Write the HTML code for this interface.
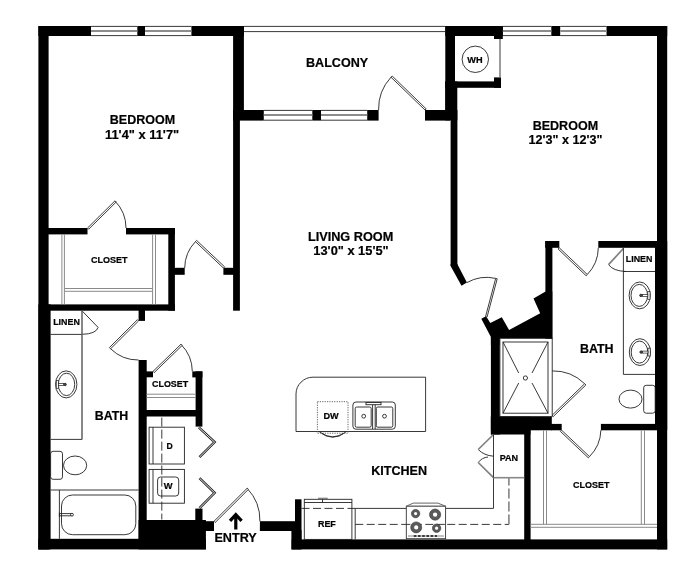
<!DOCTYPE html>
<html><head><meta charset="utf-8">
<style>
html,body{margin:0;padding:0;background:#fff;}
body{width:698px;height:573px;overflow:hidden;}
svg{display:block;filter:grayscale(1);}
text{font-family:"Liberation Sans",sans-serif;font-weight:bold;fill:#000;stroke:#000;stroke-width:0.2;text-anchor:middle;}
.w{fill:#000;}
.t{fill:none;stroke:#222;stroke-width:0.9;}
.g{fill:none;stroke:#8a8a8a;stroke-width:1;}
.d{fill:#fff;stroke:#1a1a1a;stroke-width:0.85;}
</style></head><body>
<svg width="698" height="573" viewBox="0 0 698 573">
<rect width="698" height="573" fill="#fff"/>

<!-- ===== OUTER WALLS ===== -->
<g class="w">
<!-- left wall -->
<rect x="38.4" y="26" width="10.2" height="523.4"/>
<rect x="38.4" y="304.4" width="12.2" height="245"/>
<!-- top-left segments -->
<rect x="38.4" y="26" width="52.6" height="10"/>
<rect x="137.3" y="26" width="7.7" height="10"/>
<rect x="191.4" y="26" width="52.5" height="10"/>
<!-- wall between bedroom1 and balcony/living -->
<rect x="233.1" y="26" width="10.8" height="90"/>
<rect x="233.1" y="110" width="6.8" height="200.7"/>
<rect x="233.1" y="110" width="30.7" height="10.6"/>
<rect x="312.3" y="110" width="8.7" height="10.6"/>
<rect x="367.2" y="110" width="11.4" height="10.6"/>
<rect x="425" y="110" width="25" height="10.6"/>
<!-- WH closet -->
<rect x="445.3" y="26" width="57.5" height="10"/>
<rect x="445.3" y="26" width="9.7" height="94"/>
<rect x="445.3" y="81.4" width="55.7" height="6.4"/>
<rect x="445.3" y="81.4" width="12" height="39"/>
<rect x="494" y="26" width="8.8" height="13"/>
<rect x="494" y="77.4" width="7" height="10.4"/>
<!-- bedroom2 left wall -->
<rect x="450.6" y="110" width="6.8" height="156"/>
<polygon points="450.6,264 457.3,264 466.9,282.6 461.5,285.7 450.6,266"/>
<!-- top right -->
<rect x="551.3" y="26" width="8.9" height="10"/>
<rect x="606.5" y="26" width="60.7" height="10"/>
<!-- right wall -->
<rect x="657" y="26" width="10.2" height="523.4"/>
<rect x="655" y="241" width="12.2" height="189"/>
<!-- bottom wall -->
<rect x="38.4" y="538.8" width="167.5" height="10.6"/>
<rect x="138.6" y="520" width="67.3" height="29.4"/>
<rect x="205" y="521.2" width="9" height="9.8"/>
<rect x="259.9" y="521.2" width="36" height="9.8"/>
<rect x="295" y="499.3" width="6.5" height="45"/>
<rect x="291.4" y="530" width="10.1" height="19.5"/>
<rect x="291.6" y="539.4" width="375.6" height="10"/>
<!-- bedroom1 closet -->
<rect x="48" y="228" width="39.5" height="6.4"/>
<rect x="126" y="228" width="48.9" height="6.4"/>
<rect x="168.3" y="228" width="6.6" height="82.7"/>
<rect x="48" y="304.4" width="126.9" height="6.3"/>
<rect x="174" y="267.8" width="10.7" height="7"/>
<rect x="223.4" y="267.8" width="11" height="7"/>
<!-- bath1 / small closet / laundry -->
<rect x="138.6" y="310" width="6.4" height="10.9"/>
<rect x="138.6" y="360" width="8.1" height="180"/>
<rect x="145" y="371.4" width="8" height="5.9"/>
<rect x="192.3" y="371.4" width="10.1" height="6"/>
<rect x="195.6" y="371.4" width="6.8" height="55.2"/>
<rect x="145" y="410" width="52" height="6.5"/>
<rect x="195.3" y="508.6" width="7.2" height="12"/>
<!-- bath2 -->
<rect x="545.2" y="241" width="14.1" height="6.8"/>
<rect x="598.3" y="241" width="60" height="6.8"/>
<rect x="545.4" y="241" width="7" height="98"/>
<polygon points="481.3,318.7 486.1,316.2 490.3,323 501.8,317.2 509.1,329.9 540.2,313.3 533.5,298.6 545.6,291.5 552.3,291.5 552.3,338.3 499.7,338.3 499.7,345 490.9,345 490.9,337"/>
<rect x="490.9" y="337" width="8.9" height="97.5"/>
<rect x="490.9" y="416.5" width="39.5" height="18"/>
<rect x="490.9" y="416.5" width="60.9" height="13.8"/>
<rect x="551" y="423.9" width="10.7" height="6.4"/>
<rect x="524.2" y="430" width="6.4" height="110"/>
<rect x="600.9" y="423.9" width="57" height="6.4"/>
</g>

<!-- ===== WINDOWS ===== -->
<g id="windows">
<g class="t">
<path d="M91 26.4H137.3M145 26.4H191.4M91 35.6H137.3M145 35.6H191.4"/>
<path d="M263.8 110.4H312.3M321 110.4H367.2M263.8 120.2H312.3M321 120.2H367.2"/>
<path d="M502.8 26.4H551.3M560.2 26.4H606.5M502.8 35.6H551.3M560.2 35.6H606.5"/>
<!-- balcony rail -->
<path d="M243.9 26.4H445.3M243.9 31.6H445.3"/>
</g>
<g style="fill:none;stroke:#8c8c8c;stroke-width:2">
<path d="M91 31H137.3M145 31H191.4"/>
<path d="M263.8 115H312.3M321 115H367.2"/>
<path d="M502.8 31H551.3M560.2 31H606.5"/>
</g>
</g>

<!-- ===== DOORS ===== -->
<g class="t">
<!-- balcony door -->
<path d="M378.6 110A46.5 46.5 0 0 1 391.2 77"/>
<!-- bedroom1 closet door -->
<path d="M115 201A38.5 38.5 0 0 1 126 228"/>
<!-- bedroom1 door -->
<path d="M184.7 268A38.5 38.5 0 0 1 195.6 241.5"/>
<!-- bath1 door -->
<path d="M110.5 348.7A39.5 39.5 0 0 0 138.6 360"/>
<!-- small closet door -->
<path d="M181 344.4A38.5 38.5 0 0 1 192.3 371.4"/>
<!-- entry door -->
<path d="M247.2 488.4A46 46 0 0 1 259.9 521.3"/>
<!-- bedroom2 door -->
<path d="M466.9 282.6A40 40 0 0 1 495.7 278.4"/>
<!-- bath2 door -->
<path d="M587.2 274.6A39 39 0 0 0 598.3 247.8"/>
<!-- closet2 door -->
<path d="M589.4 456.7A39 39 0 0 0 600.9 430.2"/>
<!-- shower door -->
<path d="M552.2 370.9A45 45 0 0 1 584.7 383.8"/>
<!-- linen 1 -->
<path d="M82.2 311L98.1 327.4Q96 334 82.2 334.3"/>
<!-- linen 2 -->
<path d="M608.5 264.6Q613 271 626 271.5"/><path d="M623.4 248.5L608.5 264.6" stroke="#808080" stroke-width="1.7"/>
<!-- pantry -->
<path d="M478.2 449.5Q484 455.5 493.5 456.2"/>
<path d="M478.2 462.5Q482 457.5 488 457"/>
<path d="M493.5 434.5L478.2 449.5M493.5 477.7L478.2 462.5" stroke="#808080" stroke-width="1.7"/>
</g>
<!-- door leaves -->
<g class="d">
<polygon points="425,110 426.2,108.9 392.2,76 391,77.2"/>
<polygon points="87.5,228 88.7,229.2 116.2,202 115,200.8"/>
<polygon points="223.4,268 224.6,266.8 196.6,240.4 195.4,241.6"/>
<polygon points="138.6,320.9 137.4,319.7 109.4,347.6 110.6,348.8"/>
<polygon points="153,371.4 154.2,372.6 182.2,345.4 181,344.2"/>
<polygon points="214,521.3 215.2,522.5 248.4,489.4 247.2,488.2"/>
<polygon points="485.5,316.8 487,317.2 497.2,278.8 495.7,278.4"/>
<polygon points="559.3,247.8 558.1,249 586.1,275.7 587.3,274.5"/>
<polygon points="561.6,430.2 560.4,431.4 588.3,457.8 589.5,456.6"/>
<polygon points="552.2,415.2 553.4,416.4 585.9,384.9 584.7,383.7"/>
</g>

<!-- ===== CLOSET SHELVES (gray) ===== -->
<g class="g">
<path d="M61.9 234.4V304.4M64.4 234.4V304.4M152.6 234.4V304.4M155.5 234.4V304.4M64.4 288.5H152.6M64.4 291.3H152.6"/>
<path d="M146.7 394.2H195.6M146.7 397.5H195.6"/>
<path d="M543.5 430.3V524.3M546.5 430.3V524.3M641.3 430.3V524.3M644.5 430.3V524.3M530.5 524.3H657M530.5 527.3H657"/>
</g>

<!-- ===== WH ===== -->
<circle class="t" cx="475.3" cy="59.3" r="13.2"/>
<path class="t" d="M500 38.6V77" stroke="#777" stroke-width="1.1"/>

<!-- ===== BATH 1 ===== -->
<g class="t">
<path d="M50.6 334.4H82M50.6 439.4H82"/><path d="M82 310.5V439.4" stroke="#555" stroke-width="1.4"/>
<ellipse cx="66.2" cy="384.4" rx="10.7" ry="13.5"/>
<ellipse cx="66.5" cy="384.4" rx="8.2" ry="11.2"/>
<rect x="56.3" y="380.5" width="2.2" height="7.9" fill="#fff" stroke-width="0.7"/>
<rect x="58.5" y="383.5" width="5.3" height="2" fill="#fff" stroke-width="0.7"/>
<circle cx="65.1" cy="384.5" r="1.2" fill="#555"/>
<rect x="50.6" y="451.3" width="11.9" height="28" rx="2.5"/>
<ellipse cx="75.1" cy="465.4" rx="11.6" ry="9.4"/>
<path d="M50.6 490H138.6M59.4 490V538.8"/>
<rect x="61.5" y="495" width="74.3" height="39.7" rx="11"/>
<path d="M59.4 512.5V517M59.4 513.6H71M59.4 515.8H71"/>
<circle cx="72" cy="514.7" r="1.4"/>
</g>

<!-- ===== LAUNDRY ===== -->
<g class="t">
<rect x="149.1" y="427.2" width="35.3" height="36.8"/>
<path d="M153 427.2V464"/>
<rect x="149.1" y="469.4" width="35.3" height="33.8"/>
<path d="M153 469.4V503.2"/>
<rect x="157.6" y="477" width="21.1" height="19" rx="3"/>
<path d="M161.8 417.6V519.5" stroke-dasharray="9 3"/>
<!-- bifold -->
<path d="M198.8 427.4L214.6 442.1L199.5 457.1M199.5 478.2L214.6 492.8L199.5 508.2" stroke-width="2.5" stroke="#222"/>
</g>
<path d="M198.8 427.4L214.6 442.1L199.5 457.1M199.5 478.2L214.6 492.8L199.5 508.2" fill="none" stroke="#fff" stroke-width="0.9"/>

<!-- ===== KITCHEN ===== -->
<g class="t">
<path d="M296 431.5V394A17 17 0 0 1 313 377.2H425.6V431.5Z"/>
<rect x="317.4" y="401.7" width="30.6" height="31.5" stroke-dasharray="1.2 1.2" stroke="#555"/>
<path d="M319 431.5Q332.7 443 346.5 431.5M322 433.5Q332.7 440 343.5 433.5"/>
<rect x="352.9" y="402" width="42.4" height="27.2" rx="3"/>
<rect x="355.2" y="407" width="16" height="20.2" rx="1.5"/>
<rect x="376.3" y="407" width="16.5" height="20.2" rx="1.5"/>
<rect x="366" y="402.4" width="15" height="2.3"/>
<path d="M372.6 404.7V429M375.2 404.7V429"/>
<circle cx="363.7" cy="416.2" r="1.9"/>
<circle cx="384.5" cy="416.2" r="1.9"/>
<!-- ref -->
<rect x="304.3" y="499.3" width="47.6" height="40.1"/>
<path d="M304.3 502.5H351.9M322.5 499.3V502.5"/>
<path d="M318 498.3H327.7" stroke-width="1.2" stroke="#777"/>
<path d="M355.2 508.4V539.4"/>
<path d="M351.9 508.4H406.9M445.5 508.4H493.5V477.7"/>
<path d="M301.5 508.4H351.9" stroke-dasharray="8 3.5"/>
<path d="M355.2 524.4H508.9" stroke-dasharray="8 3.5"/>
<path d="M508.9 524.4V477.7" stroke="#7a7a7a" stroke-width="1.5" stroke-dasharray="10 3"/>
<!-- stove -->
<rect x="406.3" y="506.2" width="39.3" height="32.5" fill="#fff" stroke="#333"/>
<path d="M406.3 506.2L413.3 503.1H437.9L445.6 506.2" stroke="#555"/>
<path d="M406.3 506.2H445.6" stroke="#777"/>
<path d="M408 536H444" stroke="#777" stroke-width="0.9"/>
<path d="M413.8 536H437" stroke="#111" stroke-dasharray="2.6 1.6" stroke-width="1.5"/>
<path d="M406.3 524.4H445.6" stroke-dasharray="8 3.5" stroke-dashoffset="4"/>
</g>
<g fill="none" stroke="#5a5a5a">
<circle cx="415.6" cy="513.6" r="2.9" stroke-width="2.6"/>
<circle cx="435.1" cy="514.6" r="3.9" stroke-width="3.4"/>
<circle cx="416.2" cy="527.4" r="3.8" stroke-width="3.4"/>
<circle cx="436.6" cy="528.2" r="2.9" stroke-width="2.6"/>
</g>
<g fill="none" stroke="#333" stroke-width="0.6">
<circle cx="415.6" cy="513.6" r="4.2"/>
<circle cx="435.1" cy="514.6" r="5.6"/>
<circle cx="416.2" cy="527.4" r="5.5"/>
<circle cx="436.6" cy="528.2" r="4.2"/>
</g>

<!-- ===== PANTRY ===== -->
<g class="t">
<path d="M493.5 434.5V477.7"/>
</g>
<path d="M493.5 477.7H524.2" fill="none" stroke="#888" stroke-width="1.6"/>

<!-- ===== SHOWER ===== -->
<g class="t">
<rect x="499.9" y="338.3" width="52.3" height="78.4"/>
<rect x="503" y="342" width="45" height="71.2"/>
<path d="M503 342L518.7 373M548 342L532 373M503 413.2L518.7 383M548 413.2L532 383"/>
<circle cx="525.4" cy="378" r="2.1"/>
</g>

<!-- ===== BATH 2 ===== -->
<g class="t">
<path d="M623.4 247.8V374.4H655M623.4 271.5H655"/>
<ellipse cx="639.7" cy="295.4" rx="10.6" ry="13.4"/>
<ellipse cx="639.3000000000001" cy="295.4" rx="8.3" ry="11"/>
<rect x="647.8" y="291.5" width="2.2" height="7.8" fill="#fff" stroke-width="0.7"/>
<rect x="642.3" y="294.4" width="5.5" height="2" fill="#fff" stroke-width="0.7"/>
<circle cx="640.9" cy="295.4" r="1.2" fill="#555"/>
<ellipse cx="639.9" cy="352.1" rx="10.6" ry="13.4"/>
<ellipse cx="639.5" cy="352.1" rx="8.3" ry="11"/>
<rect x="648.0" y="348.2" width="2.2" height="7.8" fill="#fff" stroke-width="0.7"/>
<rect x="642.5" y="351.1" width="5.5" height="2" fill="#fff" stroke-width="0.7"/>
<circle cx="641.1" cy="352.1" r="1.2" fill="#555"/>
<rect x="643.7" y="385.3" width="11.5" height="27.9" rx="2.5"/>
<ellipse cx="630.5" cy="399.1" rx="11.5" ry="9"/>
</g>

<!-- ===== ENTRY ARROW ===== -->
<path d="M235.8 529.6V515M230 520.8L235.8 514.6L241.6 520.8" fill="none" stroke="#000" stroke-width="3.2" stroke-miterlimit="10"/>

<!-- ===== TEXT ===== -->
<text x="142.5" y="124" font-size="12.6" textLength="65.4" lengthAdjust="spacingAndGlyphs">BEDROOM</text>
<text x="142.1" y="138.6" font-size="12.6" textLength="74.2" lengthAdjust="spacingAndGlyphs">11'4" x 11'7"</text>
<text x="337.1" y="66.5" font-size="12.6" textLength="62.1" lengthAdjust="spacingAndGlyphs">BALCONY</text>
<text x="565.4" y="129.8" font-size="12.6" textLength="65.5" lengthAdjust="spacingAndGlyphs">BEDROOM</text>
<text x="565.5" y="144.1" font-size="12.6" textLength="73.8" lengthAdjust="spacingAndGlyphs">12'3" x 12'3"</text>
<text x="350.6" y="240.5" font-size="12.6" textLength="85.4" lengthAdjust="spacingAndGlyphs">LIVING ROOM</text>
<text x="351.0" y="254.7" font-size="12.6" textLength="75.3" lengthAdjust="spacingAndGlyphs">13'0" x 15'5"</text>
<text x="109.3" y="262.7" font-size="9" textLength="36.5" lengthAdjust="spacingAndGlyphs">CLOSET</text>
<text x="66.5" y="324.8" font-size="9" textLength="26.7" lengthAdjust="spacingAndGlyphs">LINEN</text>
<text x="111.5" y="420.2" font-size="12.6" textLength="33.4" lengthAdjust="spacingAndGlyphs">BATH</text>
<text x="170.1" y="386.7" font-size="9" textLength="36.2" lengthAdjust="spacingAndGlyphs">CLOSET</text>
<text x="169.5" y="449" font-size="8.8" textLength="6.2" lengthAdjust="spacingAndGlyphs">D</text>
<text x="168.1" y="489.1" font-size="8.8" textLength="8.8" lengthAdjust="spacingAndGlyphs">W</text>
<text x="235.6" y="542.2" font-size="12.6" textLength="42.3" lengthAdjust="spacingAndGlyphs">ENTRY</text>
<text x="331.0" y="419.2" font-size="8.8" textLength="15.2" lengthAdjust="spacingAndGlyphs">DW</text>
<text x="399.1" y="475.1" font-size="12.6" textLength="55.8" lengthAdjust="spacingAndGlyphs">KITCHEN</text>
<text x="326.9" y="526.8" font-size="8.8" textLength="17.9" lengthAdjust="spacingAndGlyphs">REF</text>
<text x="508.9" y="461.3" font-size="8.8" textLength="18.4" lengthAdjust="spacingAndGlyphs">PAN</text>
<text x="591.2" y="488" font-size="9" textLength="36.4" lengthAdjust="spacingAndGlyphs">CLOSET</text>
<text x="596.8" y="353.3" font-size="12.6" textLength="33.6" lengthAdjust="spacingAndGlyphs">BATH</text>
<text x="639.1" y="261.5" font-size="9" textLength="26.6" lengthAdjust="spacingAndGlyphs">LINEN</text>
<text x="474.9" y="62.9" font-size="9.2" textLength="15.3" lengthAdjust="spacingAndGlyphs">WH</text>
</svg>
</body></html>
